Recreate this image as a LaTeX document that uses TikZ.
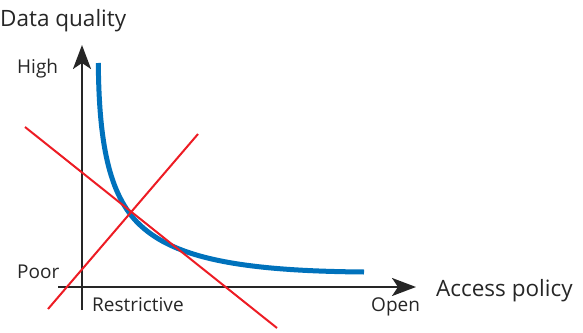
\documentclass[tikz,border=0pt]{standalone}
\usepackage{fontspec}
\setmainfont{Open Sans}
\usetikzlibrary{arrows.meta}
\definecolor{curveblue}{RGB}{0,114,188}
\definecolor{linered}{RGB}{237,28,36}
\tikzset{
	axis/.style={line width=2.4pt, draw=black!85, -{Stealth[length=24pt,width=18pt,inset=6pt]}},
	qualitycurve/.style={line width=5pt, draw=curveblue},
	crossline/.style={line width=2pt, draw=linered},
	biglabel/.style={anchor=base west, inner sep=0pt, text=black!85, font=\fontsize{22.5}{26}\selectfont},
	smalllabel/.style={anchor=base west, inner sep=0pt, text=black!85, font=\fontsize{19}{22}\selectfont}
}
\begin{document}
\begin{tikzpicture}[x=1pt,y=-1pt]
	\useasboundingbox (0,0) rectangle (583,332);
	\coordinate (XStart) at (58,287);
	\coordinate (XEnd) at (416,287);
	\coordinate (YStart) at (82,310);
	\coordinate (YEnd) at (82,45);
	\coordinate (CurveTop) at (98.3,63);
	\coordinate (CurveBend) at (140,225);
	\coordinate (CurveEnd) at (364,272);
	\coordinate (FallTop) at (25,127);
	\coordinate (FallBottom) at (277,328);
	\coordinate (RiseBottom) at (48,309);
	\coordinate (RiseTop) at (198,134);

	\node [biglabel] (YTitle) at (0,27) {Data quality};
	\node [biglabel] (XTitle) at (436,296) {Access policy};
	\node [smalllabel] (High) at (17,73) {High};
	\node [smalllabel] (Poor) at (17,278) {Poor};
	\node [smalllabel] (Restrictive) at (92,311) {Restrictive};
	\node [smalllabel] (Open) at (371,311) {Open};

	\draw [axis] (XStart) -- (XEnd);
	\draw [axis] (YStart) -- (YEnd);

	\draw [qualitycurve] (CurveTop) .. controls (99,140) and (108,195) .. (CurveBend)
		.. controls (175,258) and (240,271) .. (CurveEnd);

	\draw [crossline] (FallTop) -- (FallBottom);
	\draw [crossline] (RiseBottom) -- (RiseTop);
\end{tikzpicture}
\end{document}
